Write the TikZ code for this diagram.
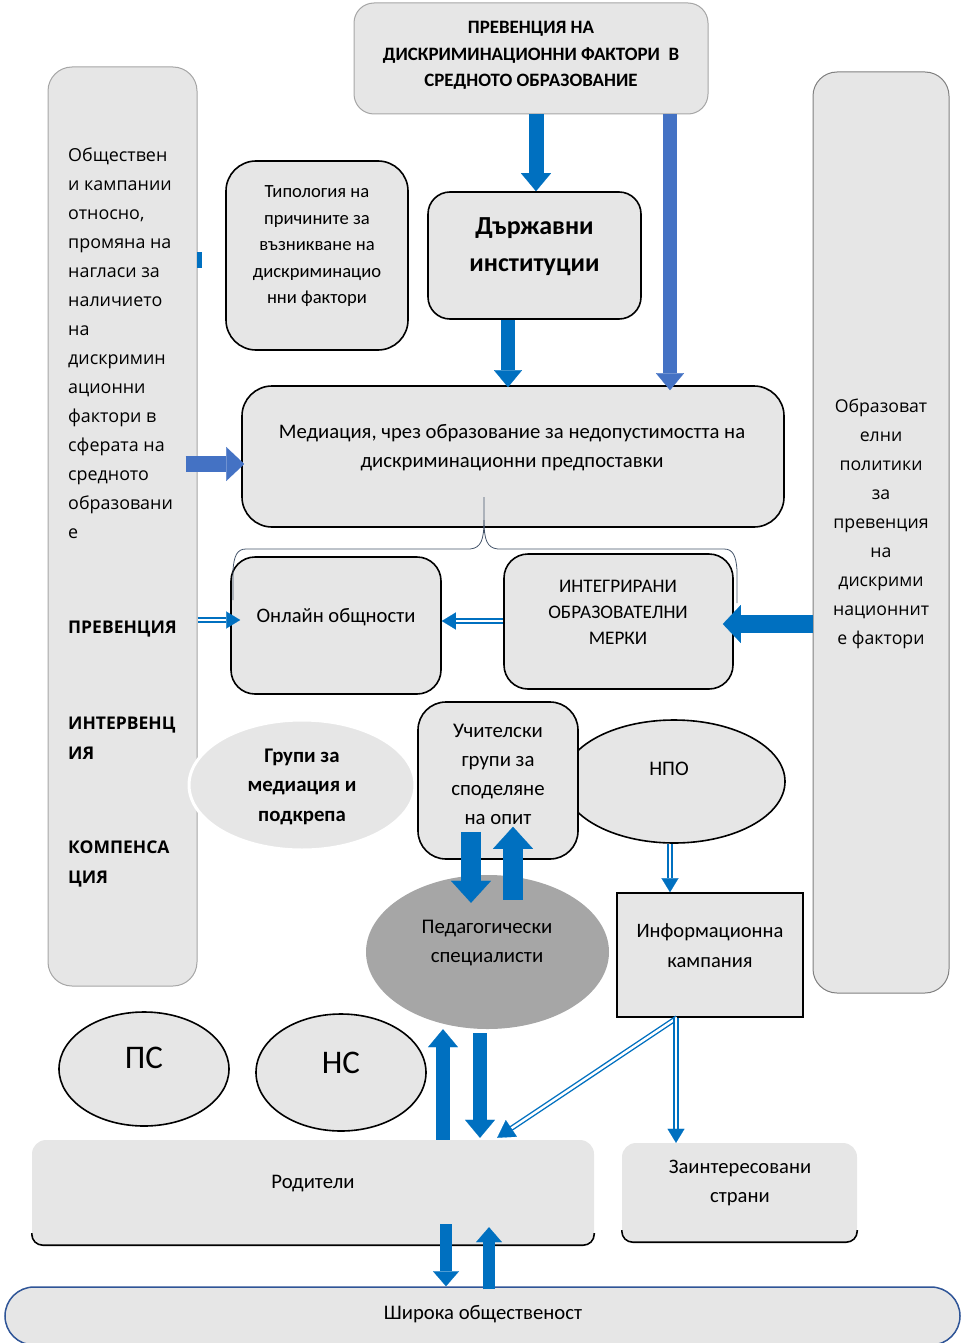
\documentclass[tikz,border=0pt]{standalone}
\usepackage{fontspec}
\setmainfont{Carlito}
\newfontfamily\osans{Open Sans}
\usetikzlibrary{arrows.meta,calc,shapes.geometric}
\definecolor{boxgray}{HTML}{E6E6E6}
\definecolor{blueA}{HTML}{0070C0}
\definecolor{blueB}{HTML}{4472C4}
\definecolor{pedgray}{HTML}{A6A6A6}
\definecolor{edgegray}{HTML}{A6A6A6}
\definecolor{slate}{HTML}{44546A}
\definecolor{navy}{HTML}{2F5597}
\newcommand{\myfs}[2]{\fontsize{#1}{#2}\selectfont}
\begin{document}
\begin{tikzpicture}[x=1pt,y=-1pt,
  rbox/.style={draw=black,line width=1.6pt,fill=boxgray,inner sep=0pt},
  sidebox/.style={line width=1pt,fill=boxgray,rounded corners=24pt,inner sep=0pt},
  ell/.style={ellipse,inner sep=0pt},
  txt/.style={inner sep=0pt,align=center},
  fat/.style n args={3}{blueA,line width=#1pt,-{Triangle[width=#2pt,length=#3pt,line width=0.1pt]}},
  dbl/.style={blueA,double=white,double distance=2.4pt,line width=1.4pt,-{Triangle[width=17pt,length=14pt,line width=0.1pt]}},
  bottomedge/.style={line width=1.6pt,rounded corners=11pt}]
\useasboundingbox (0,0) rectangle (966,1343);

% side boxes
\node[sidebox,draw=edgegray,minimum width=149pt,minimum height=919pt] (lft) at (122.5,526.5) {};
\node[sidebox,draw=gray,minimum width=136pt,minimum height=921pt] (rgt) at (881,532.5) {};

% boxes
\node[rbox,draw=edgegray,line width=1pt,rounded corners=20pt,minimum width=354pt,minimum height=111pt] (top) at (531,58.5) {};
\node[rbox,rounded corners=30pt,minimum width=182pt,minimum height=189pt] (typ) at (317,255.5) {};
\node[rbox,rounded corners=22pt,minimum width=213pt,minimum height=127pt] (dz) at (534.5,255.5) {};
\node[rbox,rounded corners=30pt,minimum width=542pt,minimum height=141pt] (med) at (513,456.5) {};
\node[rbox,rounded corners=24pt,minimum width=210pt,minimum height=137pt] (onl) at (336,625.5) {};
\node[rbox,rounded corners=24pt,minimum width=229pt,minimum height=135pt] (int) at (618.5,621.5) {};
\node[ell,fill=boxgray,draw=white,line width=3pt,minimum width=226pt,minimum height=130pt] (grp) at (302,785) {};
\node[ell,fill=boxgray,draw=black,line width=1.6pt,minimum width=222pt,minimum height=123pt] (npo) at (674,781.5) {};
\node[rbox,rounded corners=28pt,minimum width=160pt,minimum height=157pt] (uch) at (498,780.5) {};
\node[ell,fill=pedgray,minimum width=243pt,minimum height=154pt] (ped) at (487.5,952) {};
\node[rbox,minimum width=186pt,minimum height=124pt] (inf) at (710,955) {};
\node[ell,fill=boxgray,draw=black,line width=1.6pt,minimum width=170pt,minimum height=114pt] (ps) at (144,1069) {};
\node[ell,fill=boxgray,draw=black,line width=1.6pt,minimum width=170pt,minimum height=117pt] (ns) at (341,1072.5) {};
\node[fill=boxgray,rounded corners=14pt,minimum width=562pt,minimum height=105pt,inner sep=0pt] (rod) at (313,1192.5) {};
\draw[bottomedge] ([yshift=12pt]rod.south west) |- (rod.south east) -- ([yshift=12pt]rod.south east);
\node[fill=boxgray,rounded corners=14pt,minimum width=235pt,minimum height=99pt,inner sep=0pt] (zai) at (739.5,1192.5) {};
\draw[bottomedge] ([yshift=12pt]zai.south west) |- (zai.south east) -- ([yshift=12pt]zai.south east);
\node[fill=boxgray,draw=navy,line width=1.5pt,rounded corners=29pt,minimum width=955pt,minimum height=58pt,inner sep=0pt] (shr) at (482.5,1316) {};

% brace
\draw[slate,line width=0.8pt] (484,497) -- (484,520) .. controls (484,540) and (481,548) .. (470,549) -- (246,549) .. controls (237,549) and (234,556) .. (233,570) -- (233,600);
\draw[slate,line width=0.8pt] (484,520) .. controls (484,540) and (487,548) .. (498,549) -- (724,549) .. controls (733,549) and (736,556) .. (737,570) -- (737,603);

% texts
\node[txt,font=\bfseries\myfs{18.9}{26.5}] (ttop) at (531,55.5) {ПРЕВЕНЦИЯ НА\\ДИСКРИМИНАЦИОННИ ФАКТОРИ~ В\\СРЕДНОТО ОБРАЗОВАНИЕ};
\node[txt,font=\myfs{18.6}{26.5}] (ttyp) at (317,246.5) {Типология на\\причините за\\възникване на\\дискриминацио\\нни фактори};
\node[txt,font=\bfseries\myfs{26}{37}] (tdz) at (534.5,247) {Държавни\\институции};
\node[txt,font=\myfs{20.7}{29}] (tmed) at (512,448) {Медиация, чрез образование за недопустимостта на\\дискриминационни предпоставки};
\node[txt,font=\myfs{20.6}{29}] (tonl) at (336,617.5) {Онлайн общности};
\node[txt,font=\myfs{19.2}{26}] (tint) at (618,612) {ИНТЕГРИРАНИ\\ОБРАЗОВАТЕЛНИ\\МЕРКИ};
\node[txt,font=\bfseries\myfs{20.8}{29.5}] (tgrp) at (302,786.5) {Групи за\\медиация и\\подкрепа};
\node[txt,font=\myfs{20.7}{29}] (tnpo) at (669,769) {НПО};
\node[txt,font=\myfs{20.8}{29}] (tuch) at (498,774.5) {Учителски\\групи за\\споделяне\\на опит};
\node[txt,font=\myfs{20.8}{29}] (tped) at (487,943) {Педагогически\\специалисти};
\node[txt,font=\myfs{20.5}{30}] (tinf) at (710,945.5) {Информационна\\кампания};
\node[txt,font=\myfs{33}{30}] (tps) at (144,1058) {ПС};
\node[txt,font=\myfs{33}{30}] (tns) at (341,1063) {НС};
\node[txt,font=\myfs{20.7}{29}] (trod) at (313,1183.5) {Родители};
\node[txt,font=\myfs{20.6}{29}] (tzai) at (740,1182.5) {Заинтересовани\\страни};
\node[txt,font=\myfs{20.7}{29}] (tshr) at (483,1314.5) {Широка общественост};
\node[txt,align=left,anchor=west,font=\osans\myfs{17.9}{29}] (tlft) at (68,343.5) {Обществен\\и кампании\\относно,\\промяна на\\нагласи за\\наличието\\на\\дискримин\\ационни\\фактори в\\сферата на\\средното\\образовани\\е};
\node[txt,align=left,anchor=west,font=\osans\bfseries\myfs{17.5}{30}] (tpre) at (68,629.5) {ПРЕВЕНЦИЯ};
\node[txt,align=left,anchor=west,font=\osans\bfseries\myfs{17.5}{30}] (tintv) at (68,738.5) {ИНТЕРВЕНЦ\\ИЯ};
\node[txt,align=left,anchor=west,font=\osans\bfseries\myfs{17.5}{30}] (tkomp) at (68,863.5) {КОМПЕНСА\\ЦИЯ};
\node[txt,font=\osans\myfs{17.7}{29}] (trgt) at (881,523.5) {Образоват\\елни\\политики\\за\\превенция\\на\\дискрими\\национнит\\е фактори};

% small mark
\fill[blueA] (197,252) rectangle (202,268);

% arrows
\draw[fat={15}{30}{18}] (536,0 |- top.south) -- (536,0 |- dz.north);
\draw[fat={14}{28}{17},blueB] (670,0 |- top.south) -- ($(670,0 |- med.north)+(0,5)$);
\draw[fat={14}{28}{17}] (508,0 |- dz.south) -- ($(508,0 |- med.north)+(0,2)$);
\draw[fat={16}{34}{18},blueB] ($(lft.east |- 0,464)+(-12,0)$) -- ($(med.west |- 0,464)+(3,0)$);
\draw[dbl] (lft.east |- 0,620) -- ($(onl.west |- 0,620)+(10,0)$);
\draw[dbl] (int.west |- 0,621) -- (onl.east |- 0,621);
\draw[fat={18}{38}{18}] (rgt.west |- 0,624) -- ($(int.east |- 0,624)+(-11,0)$);
\draw[fat={20}{40}{22}] ($(uch.south)+(-27,-28)$) -- ($(ped.north)+(-16.5,28)$);
\draw[fat={20}{40}{22}] ($(ped.north)+(25.5,25)$) -- ($(uch.south)+(15,-33)$);
\draw[dbl] (670,0 |- npo.south) -- (670,0 |- inf.north);
\draw[fat={14}{30}{18}] (443,0 |- rod.north) -- (443,0 |- ped.south);
\draw[fat={14}{30}{18}] ($(480,0 |- ped.south)+(0,4)$) -- ($(480,0 |- rod.north)+(0,-2)$);
\draw[dbl,-{Triangle[width=20pt,length=17pt,line width=0.1pt]}] (677,0 |- inf.south) -- ($(rod.north east)+(-97,-2)$);
\draw[dbl] (676,0 |- inf.south) -- (676,0 |- zai.north);
\draw[fat={12}{26}{15}] ($(446,0 |- rod.south)+(0,-21)$) -- (446,0 |- shr.north);
\draw[fat={12}{26}{15}] ($(489,0 |- shr.north)+(0,3)$) -- ($(489,0 |- rod.south)+(0,-18)$);
\end{tikzpicture}
\end{document}
